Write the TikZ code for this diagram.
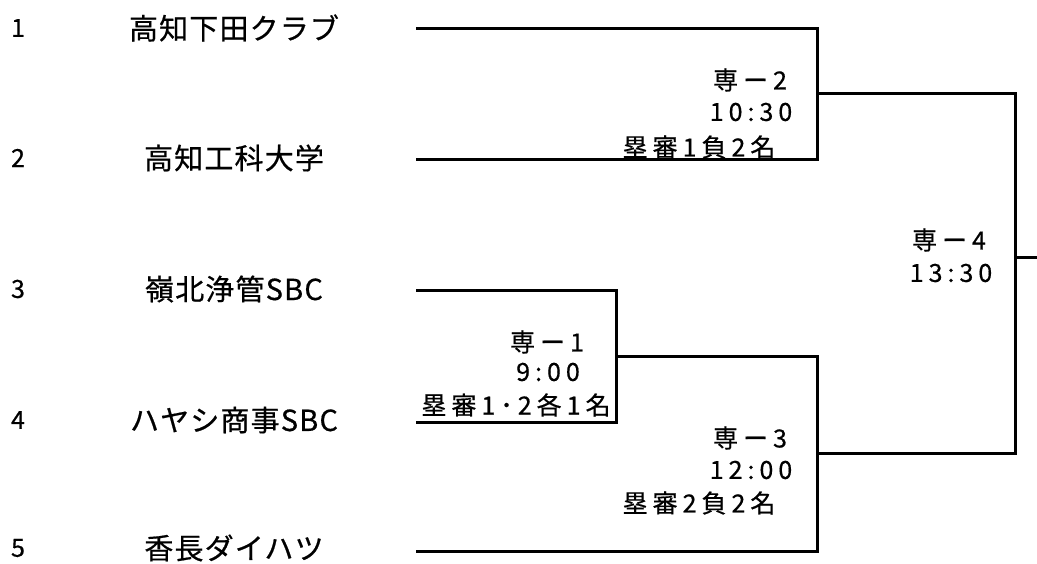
\documentclass[tikz,border=0pt]{standalone}
\usepackage{fontspec}
\setmainfont[FakeBold=0.6]{Noto Sans CJK JP}
\usepackage{tikz}

\begin{document}
\begin{tikzpicture}[x=1pt, y=-1pt,
         % the lines of the draw
         bracket/.style={line width=3pt, line join=miter},
         % seed number and team
         seed/.style={inner sep=0pt, font=\fontsize{25}{28}\selectfont},
         team/.style={inner sep=0pt,
            font=\fontsize{29}{32}\selectfont\addfontfeatures{LetterSpace=4}},
         % match number, time, umpires
         info/.style={inner sep=0pt,
            font=\fontsize{25}{28}\selectfont\addfontfeatures{LetterSpace=20}}]
   \useasboundingbox (0,0) rectangle (1037,564);
   \foreach \n \y \w in {1/28/高知下田クラブ, 2/158/高知工科大学, 3/289/嶺北浄管SBC,
                         4/420/ハヤシ商事SBC, 5/548/香長ダイハツ}{
      \node [seed] (no\n) at (18,\y) {\n};
      \node [team] (team\n) at (234,\y) {\w};
   };
   %% line starts
   \coordinate (s1) at (416,29);
   \coordinate (s2) at (416,160);
   \coordinate (s3) at (416,291);
   \coordinate (s4) at (416,422);
   \coordinate (s5) at (416,551);
   %% winners of each game
   \coordinate (m1) at (616,356);
   \coordinate (m2) at (817,94);
   \coordinate (m3) at (817,453);
   \coordinate (m4) at (1015,258);
   \coordinate (champ) at (1037,258);
   \draw [bracket] (s1) -| (m2) |- (s2);
   \draw [bracket] (s3) -| (m1) |- (s4);
   \draw [bracket] (m1) -| (m3) |- (s5);
   \draw [bracket] (m2) -| (m4) |- (m3);
   \draw [bracket] (m4) -- (champ);
   \foreach \x \y \w [count=\i] in {750/80/専ー2, 751/112/10:30, 699/147/塁審1負2名,
                                    547/342/専ー1, 548/372/9:00, 516/405/塁審1･2各1名,
                                    750/438/専ー3, 751/470/12:00, 699/503/塁審2負2名,
                                    949/240/専ー4, 951/273/13:30}{
      \node [info] (info\i) at (\x,\y) {\w};
   };
\end{tikzpicture}
\end{document}
